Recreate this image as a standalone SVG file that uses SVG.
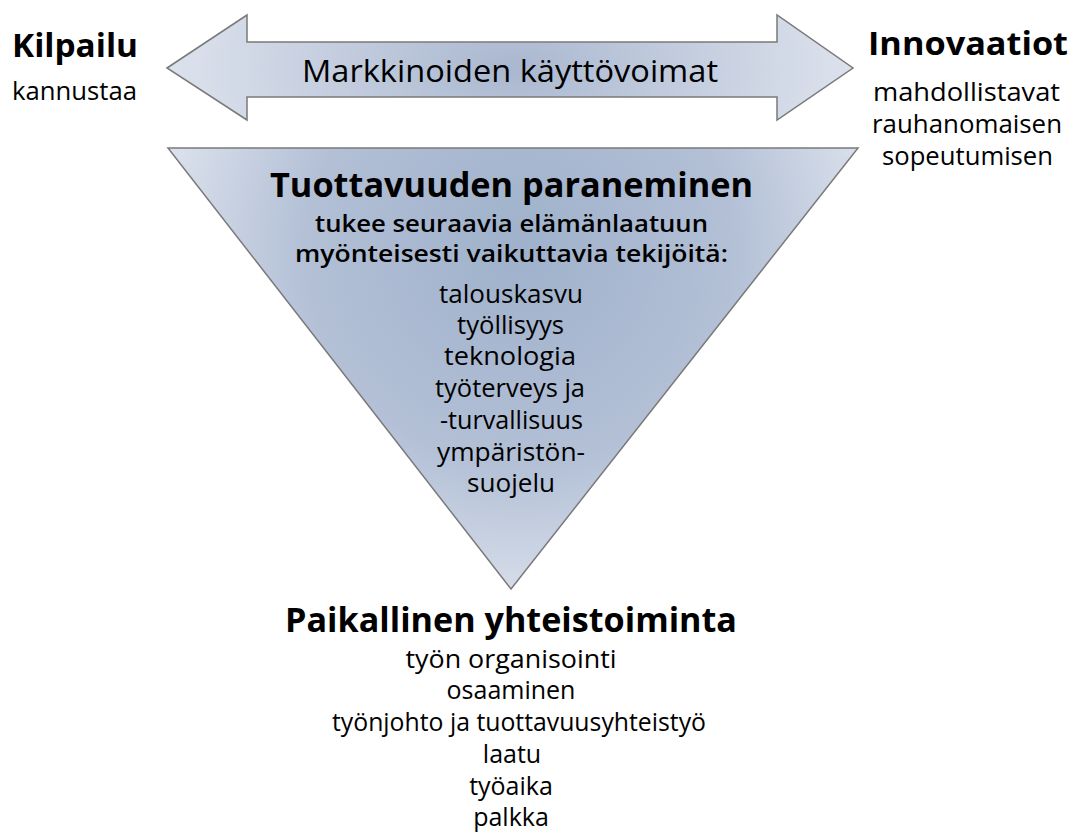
<svg xmlns="http://www.w3.org/2000/svg" width="1071" height="833" viewBox="0 0 1071 833">
<defs>
<radialGradient id="gArrow" cx="512" cy="68" r="360" gradientUnits="userSpaceOnUse" gradientTransform="translate(512 68) scale(1 0.5) translate(-512 -68)">
<stop offset="0" stop-color="#a9b7cf"/>
<stop offset="1" stop-color="#dfe4ee"/>
</radialGradient>
<radialGradient id="gTri" cx="520" cy="250" r="360" gradientUnits="userSpaceOnUse">
<stop offset="0" stop-color="#9fb1cb"/>
<stop offset="0.6" stop-color="#b3c0d6"/>
<stop offset="1" stop-color="#dbe1ec"/>
</radialGradient>
<style>
text{font-family:"Open Sans","Noto Sans",sans-serif;fill:#000;text-anchor:middle}
.h{font-weight:bold;font-size:34px}
.hs{font-weight:bold;font-size:33px}
.sb{font-weight:600;font-size:24px}
.t{font-size:25px}
.shape{stroke:#7a7a7a;stroke-width:1.5}
</style>
</defs>
<g id="arrow">
<path class="shape" fill="url(#gArrow)" d="M167,68 L247,15 L247,42 L777,42 L777,15 L853,68 L777,120 L777,97 L247,97 L247,120 Z"/>
<text x="510" y="82" style="font-size:31px" textLength="416" lengthAdjust="spacingAndGlyphs">Markkinoiden käyttövoimat</text>
</g>
<g id="kilpailu">
<text class="hs" x="75" y="57" textLength="126" lengthAdjust="spacingAndGlyphs">Kilpailu</text>
<text class="t" x="74.5" y="100" textLength="125" lengthAdjust="spacingAndGlyphs">kannustaa</text>
</g>
<g id="innovaatiot">
<text class="hs" x="968" y="55" textLength="200" lengthAdjust="spacingAndGlyphs">Innovaatiot</text>
<text class="t" x="966.5" y="101" textLength="187" lengthAdjust="spacingAndGlyphs">mahdollistavat</text>
<text class="t" x="967" y="133" textLength="190" lengthAdjust="spacingAndGlyphs">rauhanomaisen</text>
<text class="t" x="967.5" y="165" textLength="171" lengthAdjust="spacingAndGlyphs">sopeutumisen</text>
</g>
<g id="triangle">
<path class="shape" fill="url(#gTri)" d="M168,148 L858,148 L511,589 Z"/>
<text class="h" x="511.5" y="197" textLength="483" lengthAdjust="spacingAndGlyphs">Tuottavuuden paraneminen</text>
<text class="sb" x="511.5" y="232" textLength="393" lengthAdjust="spacingAndGlyphs">tukee seuraavia elämänlaatuun</text>
<text class="sb" x="511.5" y="262" textLength="433" lengthAdjust="spacingAndGlyphs">myönteisesti vaikuttavia tekijöitä:</text>
<text class="t" x="511" y="303" textLength="144" lengthAdjust="spacingAndGlyphs">talouskasvu</text>
<text class="t" x="510.5" y="334" textLength="107" lengthAdjust="spacingAndGlyphs">työllisyys</text>
<text class="t" x="510" y="365" textLength="132" lengthAdjust="spacingAndGlyphs">teknologia</text>
<text class="t" x="510" y="397" textLength="150" lengthAdjust="spacingAndGlyphs">työterveys ja</text>
<text class="t" x="511.5" y="429" textLength="143" lengthAdjust="spacingAndGlyphs">-turvallisuus</text>
<text class="t" x="511" y="461" textLength="148" lengthAdjust="spacingAndGlyphs">ympäristön-</text>
<text class="t" x="511" y="492" textLength="88" lengthAdjust="spacingAndGlyphs">suojelu</text>
</g>
<g id="paikallinen">
<text class="h" x="511" y="632" textLength="452" lengthAdjust="spacingAndGlyphs">Paikallinen yhteistoiminta</text>
<text class="t" x="511" y="668" textLength="211" lengthAdjust="spacingAndGlyphs">työn organisointi</text>
<text class="t" x="511" y="699">osaaminen</text>
<text class="t" x="519" y="731" textLength="374" lengthAdjust="spacingAndGlyphs">työnjohto ja tuottavuusyhteistyö</text>
<text class="t" x="512" y="763">laatu</text>
<text class="t" x="511" y="795">työaika</text>
<text class="t" x="511" y="826">palkka</text>
</g>
<g id="connectors"></g>
</svg>
